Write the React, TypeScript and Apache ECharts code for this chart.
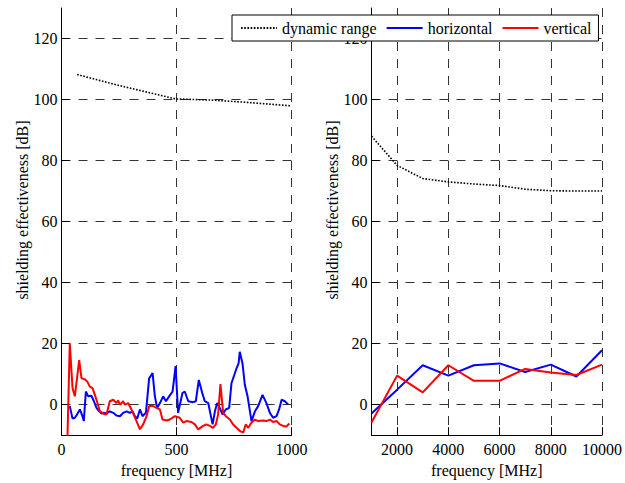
import React, { useEffect, useRef } from "react";
import * as echarts from "echarts";

// ---- data ----
const legendNames = ["dynamic range", "horizontal", "vertical"];

const yTicks = [0, 20, 40, 60, 80, 100, 120];
const leftXTicks = [0, 500, 1000];
const rightXTicks = [2000, 4000, 6000, 8000, 10000];

// left panel (0-1000 MHz)
const leftDynamic: [number, number][] = [
  [68, 108.2], [239, 104.8], [496, 100.2], [658, 99.8], [819, 99.0], [1000, 97.9],
];
const leftHorizontal: [number, number][] = [
  [36, -0.5], [48, -4.6], [58, -4.3], [68, -3.2], [80, -1.6], [91, -3.8], [97, -5.4],
  [106, 4.3], [116, 2.7], [130, 2.9], [141, 1.1], [152, -1.1], [164, -2.2], [174, -2.9],
  [184, -2.7], [196, -2.9], [210, -2.2], [225, -2.7], [239, -3.6], [254, -3.8], [268, -2.7],
  [283, -2.2], [297, -2.7], [309, -2.2], [319, -3.8], [329, -4.6], [341, -1.6], [352, -3.8],
  [367, -2.7], [381, 8.6], [396, 10.3], [406, 2.7], [416, -1.1], [428, 0.5], [442, 2.7],
  [454, 1.1], [468, 2.7], [483, 4.3], [496, 12.6], [507, -2.7], [526, 3.8], [536, 4.3],
  [551, 1.1], [572, 0.8], [584, 1.1], [597, 8.1], [612, 3.8], [623, 1.1], [638, 0.5],
  [648, -3.2], [657, -6.5], [667, -2.2], [677, 0.5], [688, -1.1], [700, -3.2], [714, -1.6],
  [729, -1.1], [739, 7.0], [749, 9.2], [761, 11.9], [770, 13.5], [775, 17.3], [787, 13.5],
  [797, 6.5], [809, 2.7], [826, -5.4], [841, -2.2], [855, -0.5], [874, 3.2], [891, 0.5],
  [906, -2.7], [920, -4.3], [935, -3.8], [946, -1.6], [957, 1.6], [971, 1.1], [986, 0.0],
];
const leftVertical: [number, number][] = [
  [26, -10.5], [36, 20], [48, 5.4], [58, 2.7], [77, 14.6], [87, 8.6], [101, 8.3], [112, 7.6],
  [123, 5.9], [135, 5.4], [145, 3.2], [152, 1.6], [167, -2.2], [188, -3.2], [196, -3.2],
  [210, 1.1], [225, 1.6], [239, 0.5], [246, 1.4], [254, 0.0], [268, 1.1], [275, 0.0],
  [290, 0.5], [304, -1.6], [326, -5.4], [341, -8.1], [355, -6.5], [370, -3.8], [381, -0.5],
  [399, -0.5], [413, -1.1], [428, -1.6], [439, -4.9], [457, -5.2], [471, -4.9], [493, -3.8],
  [514, -4.3], [529, -5.9], [543, -5.4], [565, -5.7], [580, -6.5], [594, -8.1], [616, -7.0],
  [630, -6.5], [645, -7.0], [659, -7.6], [671, -6.5], [681, -3.2], [691, 6.7], [703, -2.7],
  [717, -4.0], [732, -4.9], [746, -6.5], [761, -7.6], [775, -8.6], [790, -9.2], [801, -6.5],
  [812, -7.6], [826, -5.9], [841, -4.9], [855, -5.4], [877, -5.2], [891, -5.4], [906, -4.9],
  [920, -5.7], [935, -5.4], [949, -6.5], [964, -7.0], [978, -7.2], [990, -6.2],
];

// right panel (1000-10000 MHz)
const rightFreq = [1000, 2000, 3000, 4000, 5000, 6000, 7000, 8000, 9000, 10000];
const rightDynamic = [88, 78.4, 74.1, 73, 72.3, 71.8, 70.6, 70.1, 70, 70];
const rightHorizontal = [-2.9, 4.9, 12.9, 9.5, 12.9, 13.5, 10.7, 13.1, 9.2, 17.8];
const rightVertical = [-5.9, 9.5, 4.0, 12.9, 7.8, 7.8, 11.7, 10.5, 9.7, 13.1];

const FONT = "'Liberation Serif', 'Times New Roman', serif";

export default function App() {
  const ref = useRef<HTMLDivElement>(null);

  useEffect(() => {
    if (!ref.current) return;
    const chart = echarts.init(ref.current, undefined, { renderer: "svg" });

    const gridLine = { show: true, lineStyle: { color: "#333", width: 1, type: [9, 8] as number[] } };
    const axisLine = { show: true, onZero: false, lineStyle: { color: "#000", width: 1 } };
    const axisTickCfg = (vals: number[]) => ({
      show: true, inside: true, length: 8, customValues: vals,
      lineStyle: { color: "#000", width: 1 },
    });
    const labelCfg = (vals: number[], margin: number) => ({
      customValues: vals, color: "#000", fontSize: 16, fontFamily: FONT, margin,
      formatter: (v: number) => String(v),
    });

    const pairs = (xs: number[], ys: number[]) => xs.map((x, i) => [x, ys[i]]);

    const lineSeries = (name: string, data: any[], idx: number, color: string, dotted: boolean) => ({
      type: "line",
      name,
      data,
      xAxisIndex: idx,
      yAxisIndex: idx,
      symbol: "none",
      showSymbol: false,
      clip: true,
      lineStyle: dotted
        ? { color, width: 1.6, type: [1.6, 1.6] }
        : { color, width: 2 },
      itemStyle: { color },
    });

    const xAxisBase = (min: number, max: number, vals: number[]) => ({
      type: "value",
      min,
      max,
      axisLine,
      axisTick: axisTickCfg(vals),
      axisLabel: labelCfg(vals, 6),
      splitLine: gridLine,
      name: "frequency [MHz]",
      nameLocation: "middle",
      nameGap: 25,
      nameTextStyle: { color: "#000", fontSize: 16, fontFamily: FONT },
    });
    const yAxisBase = (gi: number) => ({
      type: "value",
      gridIndex: gi,
      min: -10,
      max: 130,
      axisLine,
      axisTick: axisTickCfg(yTicks),
      axisLabel: labelCfg(yTicks, 4),
      splitLine: gridLine,
    });

    chart.setOption({
      animation: false,
      backgroundColor: "#fff",
      grid: [
        { left: 61.5, top: 8, width: 230, height: 431 },
        { left: 371.5, top: 8, width: 230.5, height: 431 },
      ],
      xAxis: [
        { ...xAxisBase(0, 1000, leftXTicks), gridIndex: 0 },
        { ...xAxisBase(1000, 10000, rightXTicks), gridIndex: 1 },
      ],
      yAxis: [yAxisBase(0), yAxisBase(1)],
      legend: {
        data: legendNames,
        left: 232,
        top: 15,
        orient: "horizontal",
        itemWidth: 36,
        itemHeight: 14,
        itemGap: 9,
        padding: [5, 7, 5, 8],
        borderColor: "#000",
        borderWidth: 1,
        backgroundColor: "#fff",
        itemStyle: { opacity: 0 },
        textStyle: { color: "#000", fontSize: 16, fontFamily: FONT },
        z: 10,
      },
      graphic: [
        {
          type: "text", x: 22, y: 210, rotation: Math.PI / 2, z: 10,
          style: {
            text: "shielding effectiveness [dB]", fontSize: 16, fontFamily: FONT,
            fill: "#000", align: "center", verticalAlign: "middle",
          },
        },
        {
          type: "text", x: 332, y: 210, rotation: Math.PI / 2, z: 10,
          style: {
            text: "shielding effectiveness [dB]", fontSize: 16, fontFamily: FONT,
            fill: "#000", align: "center", verticalAlign: "middle",
          },
        },
      ],
      series: [
        lineSeries(legendNames[0], leftDynamic, 0, "#000", true),
        lineSeries(legendNames[1], leftHorizontal, 0, "#0000ff", false),
        lineSeries(legendNames[2], leftVertical, 0, "#ff0000", false),
        lineSeries(legendNames[0], pairs(rightFreq, rightDynamic), 1, "#000", true),
        lineSeries(legendNames[1], pairs(rightFreq, rightHorizontal), 1, "#0000ff", false),
        lineSeries(legendNames[2], pairs(rightFreq, rightVertical), 1, "#ff0000", false),
      ],
    });

    return () => chart.dispose();
  }, []);

  return (
    <div
      ref={ref}
      style={{ position: "fixed", left: 0, top: 0, width: 625, height: 483, background: "#fff" }}
    />
  );
}
